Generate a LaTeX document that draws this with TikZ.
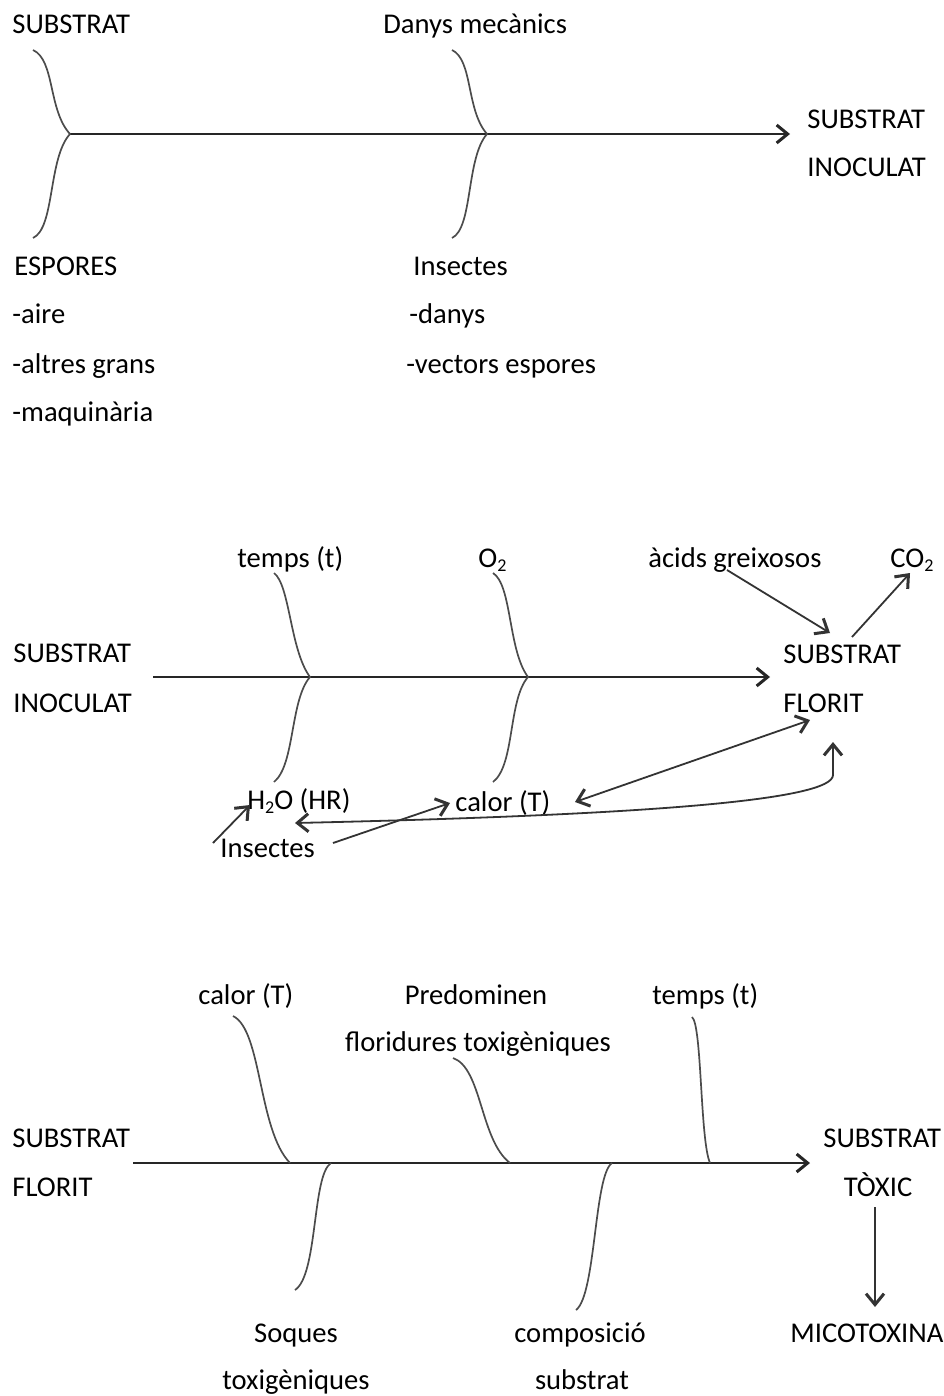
\documentclass[tikz,border=0pt]{standalone}
\usepackage{fontspec}
\setmainfont{Carlito}
\usetikzlibrary{arrows.meta}
\begin{document}
\begin{tikzpicture}[x=0.5pt,y=-0.5pt,
  lbl/.style={anchor=base west,inner sep=0pt,font=\fontsize{14.3}{17}\selectfont},
  clbl/.style={anchor=base,inner sep=0pt,font=\fontsize{14.3}{17}\selectfont},
  tip/.style={-{Straight Barb[length=5.5pt,width=9pt,line width=1.5pt]}},
  spine/.style={draw=black!85,line width=1.1pt,tip},
  fish/.style={draw=black!70,line width=0.85pt},
  arr/.style={draw=black!80,line width=0.9pt,tip},
  darr/.style={draw=black!80,line width=0.9pt,{Straight Barb[length=5.5pt,width=9pt,line width=1.5pt]}-{Straight Barb[length=5.5pt,width=9pt,line width=1.5pt]}}]
\path[use as bounding box,fill=white] (0,0) rectangle (943,1396);

% ---------------- Section 1 ----------------
\node[lbl] (s1a) at (12,34) {SUBSTRAT};
\node[lbl] (s1b) at (383,34) {Danys mecànics};
\node[lbl] (s1c) at (807,129) {SUBSTRAT};
\node[lbl] (s1d) at (807,177) {INOCULAT};
\node[lbl] (esp) at (14,275) {ESPORES};
\node[lbl] (esp1) at (12,323) {-aire};
\node[lbl] (esp2) at (12,373) {-altres grans};
\node[lbl] (esp3) at (12,421) {-maquinària};
\node[lbl] (ins) at (413,275) {Insectes};
\node[lbl] (ins1) at (409,323) {-danys};
\node[lbl] (ins2) at (406,373) {-vectors espores};

\coordinate (p1a) at (70,134);
\coordinate (p1b) at (487,134);
\coordinate (e1) at (790,134);
\coordinate (t1a) at (33,50);
\coordinate (b1a) at (33,238);
\coordinate (t1b) at (452,50);
\coordinate (b1b) at (452,238);

\draw[spine] (p1a) -- (e1);
\draw[fish] (t1a) .. controls (55,60) and (48,110) .. (p1a)
               .. controls (48,158) and (55,228) .. (b1a);
\draw[fish] (t1b) .. controls (473,60) and (466,110) .. (p1b)
               .. controls (466,158) and (473,228) .. (b1b);

% ---------------- Section 2 ----------------
\node[lbl] (s2a) at (13,662) {SUBSTRAT};
\node[lbl] (s2b) at (13,712) {INOCULAT};
\node[lbl] (s2c) at (783,663) {SUBSTRAT};
\node[lbl] (s2d) at (783,712) {FLORIT};
\node[lbl] (tmp) at (237,567) {temps (t)};
\node[lbl] (o2) at (478,567) {O{\fontsize{9}{10}\selectfont\raisebox{-2pt}{2}}};
\node[lbl] (acid) at (648,567) {àcids greixosos};
\node[lbl] (co2) at (890,567) {CO{\fontsize{9}{10}\selectfont\raisebox{-2pt}{2}}};
\node[lbl] (h2o) at (247,809) {H{\fontsize{9}{10}\selectfont\raisebox{-2pt}{2}}O (HR)};
\node[lbl] (cal) at (455,811) {calor (T)};
\node[lbl] (ins3) at (220,857) {Insectes};

\coordinate (q0) at (153,677);
\coordinate (q1) at (310,677);
\coordinate (q2) at (528,677);
\coordinate (q3) at (770,677);
\coordinate (tt) at (274,573);
\coordinate (tb) at (274,782);
\coordinate (ot) at (493,573);
\coordinate (ob) at (493,782);

\draw[spine] (q0) -- (q3);
\draw[fish] (tt) .. controls (290,585) and (290,650) .. (q1)
                 .. controls (290,700) and (295,765) .. (tb);
\draw[fish] (ot) .. controls (512,585) and (508,650) .. (q2)
                 .. controls (508,700) and (515,765) .. (ob);

\coordinate (ac1) at (727,570);
\coordinate (ac2) at (830,633);
\coordinate (co1) at (852,637);
\coordinate (co2e) at (910,573);
\coordinate (in1) at (213,843);
\coordinate (in1e) at (250,805);
\coordinate (in2) at (333,843);
\coordinate (in2e) at (450,803);
\coordinate (cf1) at (575,802);
\coordinate (cf2) at (810,720);
\coordinate (lg1) at (295,823);
\coordinate (lg2) at (833,775);
\coordinate (lg3) at (833,742);

\draw[arr] (ac1) -- (ac2);
\draw[arr] (co1) -- (co2e);
\draw[arr] (in1) -- (in1e);
\draw[arr] (in2) -- (in2e);
\draw[darr] (cf1) -- (cf2);
\draw[darr] (lg1) .. controls (650,815) and (833,800) .. (lg2) -- (lg3);

% ---------------- Section 3 ----------------
\node[lbl] (s3a) at (12,1147) {SUBSTRAT};
\node[lbl] (s3b) at (12,1196) {FLORIT};
\node[lbl] (s3c) at (823,1147) {SUBSTRAT};
\node[clbl] (s3d) at (878,1196) {TÒXIC};
\node[lbl] (cal3) at (198,1004) {calor (T)};
\node[clbl] (pre) at (476,1004) {Predominen};
\node[clbl] (flo) at (478,1051) {floridures toxigèniques};
\node[lbl] (tmp3) at (652,1004) {temps (t)};
\node[clbl] (soq) at (296,1342) {Soques};
\node[clbl] (tox) at (296,1389) {toxigèniques};
\node[clbl] (com) at (580,1342) {composició};
\node[clbl] (sub) at (582,1389) {substrat};
\node[lbl] (mic) at (790,1342) {MICOTOXINA};

\coordinate (r0) at (133,1163);
\coordinate (r1) at (290,1163);
\coordinate (r2) at (331,1163);
\coordinate (r3) at (510,1163);
\coordinate (r4) at (612,1163);
\coordinate (r5) at (710,1163);
\coordinate (r6) at (810,1163);
\coordinate (c1t) at (233,1016);
\coordinate (c2t) at (453,1058);
\coordinate (c3t) at (692,1017);
\coordinate (c1b) at (295,1290);
\coordinate (c2b) at (576,1310);
\coordinate (dn1) at (875,1207);
\coordinate (dn2) at (875,1307);

\draw[spine] (r0) -- (r6);
\draw[fish] (c1t) .. controls (262,1030) and (258,1130) .. (r1);
\draw[fish] (c2t) .. controls (482,1068) and (480,1140) .. (r3);
\draw[fish] (c3t) .. controls (702,1025) and (700,1140) .. (r5);
\draw[fish] (r2) .. controls (312,1175) and (318,1275) .. (c1b);
\draw[fish] (r4) .. controls (594,1175) and (596,1295) .. (c2b);
\draw[arr] (dn1) -- (dn2);
\end{tikzpicture}
\end{document}
